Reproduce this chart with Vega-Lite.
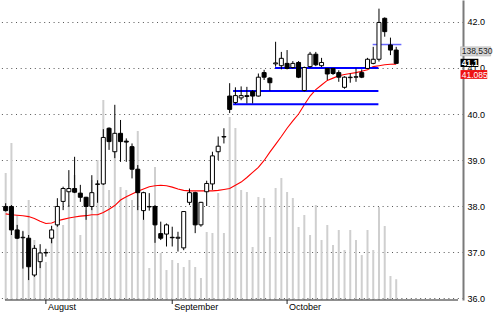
{
"$schema": "https://vega.github.io/schema/vega-lite/v6.json",
"width": 463, "height": 300,
"autosize": {"type": "pad"},
"padding": 0,
"background": "white",
"config": {"view": {"stroke": null}, "font": "Liberation Sans", "axis": {"labelFont": "Liberation Sans", "labelFontSize": 9, "labelColor": "#000"}},
"datasets": {
"bars": [
{"i":0,"o":37.99,"h":38.06,"l":37.88,"c":37.90,"v":846700,"ma":37.83},
{"i":1,"o":37.99,"h":38.02,"l":37.37,"c":37.48,"v":1046700,"ma":37.81},
{"i":2,"o":37.48,"h":37.59,"l":37.28,"c":37.30,"v":566700,"ma":37.80},
{"i":3,"o":37.31,"h":37.46,"l":36.64,"c":37.32,"v":453400,"ma":37.79},
{"i":4,"o":37.30,"h":37.37,"l":36.39,"c":36.68,"v":666700,"ma":37.77},
{"i":5,"o":36.50,"h":37.15,"l":36.46,"c":37.08,"v":400000,"ma":37.73},
{"i":6,"o":36.79,"h":37.17,"l":36.65,"c":36.98,"v":300000,"ma":37.67},
{"i":7,"o":36.98,"h":37.07,"l":36.90,"c":36.99,"v":253300,"ma":37.62},
{"i":8,"o":37.30,"h":37.57,"l":37.19,"c":37.48,"v":466700,"ma":37.63},
{"i":9,"o":37.59,"h":38.17,"l":37.55,"c":37.99,"v":600000,"ma":37.68},
{"i":10,"o":38.10,"h":38.42,"l":37.91,"c":38.38,"v":500000,"ma":37.71},
{"i":11,"o":38.31,"h":38.78,"l":37.98,"c":38.38,"v":633400,"ma":37.74},
{"i":12,"o":38.38,"h":39.07,"l":38.28,"c":38.30,"v":833400,"ma":37.76},
{"i":13,"o":38.28,"h":38.46,"l":38.09,"c":38.19,"v":433400,"ma":37.78},
{"i":14,"o":38.19,"h":38.20,"l":37.70,"c":37.99,"v":600000,"ma":37.79},
{"i":15,"o":37.99,"h":38.67,"l":37.91,"c":38.29,"v":800000,"ma":37.81},
{"i":16,"o":38.47,"h":38.56,"l":38.07,"c":38.48,"v":933400,"ma":37.81},
{"i":17,"o":38.48,"h":39.67,"l":38.46,"c":39.49,"v":1333400,"ma":37.86},
{"i":18,"o":39.69,"h":39.71,"l":39.22,"c":39.40,"v":733400,"ma":37.93},
{"i":19,"o":39.18,"h":40.20,"l":39.04,"c":39.58,"v":1066700,"ma":38.01},
{"i":20,"o":39.58,"h":39.87,"l":38.96,"c":39.40,"v":753400,"ma":38.13},
{"i":21,"o":39.41,"h":39.47,"l":38.96,"c":39.39,"v":733400,"ma":38.20},
{"i":22,"o":39.29,"h":39.36,"l":38.60,"c":38.80,"v":666700,"ma":38.26},
{"i":23,"o":38.80,"h":38.89,"l":37.91,"c":38.29,"v":1126700,"ma":38.32},
{"i":24,"o":37.90,"h":38.31,"l":37.70,"c":38.29,"v":613400,"ma":38.37},
{"i":25,"o":37.99,"h":38.28,"l":37.90,"c":37.98,"v":213300,"ma":38.42},
{"i":26,"o":37.99,"h":38.02,"l":37.20,"c":37.59,"v":886700,"ma":38.44},
{"i":27,"o":37.40,"h":37.66,"l":37.26,"c":37.30,"v":313300,"ma":38.45},
{"i":28,"o":37.39,"h":37.62,"l":37.12,"c":37.59,"v":200000,"ma":38.44},
{"i":29,"o":37.32,"h":37.55,"l":37.12,"c":37.31,"v":266700,"ma":38.41},
{"i":30,"o":37.30,"h":37.44,"l":37.01,"c":37.32,"v":246700,"ma":38.37},
{"i":31,"o":37.09,"h":37.89,"l":37.04,"c":37.88,"v":220000,"ma":38.34},
{"i":32,"o":38.08,"h":38.38,"l":38.02,"c":38.29,"v":266700,"ma":38.33},
{"i":33,"o":38.29,"h":38.31,"l":37.41,"c":37.59,"v":220000,"ma":38.33},
{"i":34,"o":37.59,"h":38.09,"l":37.55,"c":38.08,"v":146700,"ma":38.33},
{"i":35,"o":38.31,"h":38.55,"l":38.00,"c":38.49,"v":453400,"ma":38.33},
{"i":36,"o":38.48,"h":39.18,"l":38.35,"c":39.09,"v":446700,"ma":38.33},
{"i":37,"o":39.18,"h":39.51,"l":39.00,"c":39.30,"v":713400,"ma":38.34},
{"i":38,"o":39.50,"h":39.69,"l":39.36,"c":39.51,"v":446700,"ma":38.36},
{"i":39,"o":40.39,"h":40.67,"l":40.02,"c":40.10,"v":1220000,"ma":38.38},
{"i":40,"o":40.25,"h":40.58,"l":40.22,"c":40.40,"v":1146700,"ma":38.45},
{"i":41,"o":40.35,"h":40.60,"l":40.30,"c":40.40,"v":733400,"ma":38.52},
{"i":42,"o":40.38,"h":40.59,"l":40.23,"c":40.40,"v":720000,"ma":38.62},
{"i":43,"o":40.49,"h":40.52,"l":40.23,"c":40.39,"v":353400,"ma":38.73},
{"i":44,"o":40.39,"h":40.88,"l":40.38,"c":40.80,"v":686700,"ma":38.84},
{"i":45,"o":40.90,"h":40.96,"l":40.74,"c":40.80,"v":680000,"ma":38.99},
{"i":46,"o":40.78,"h":40.80,"l":40.51,"c":40.68,"v":420000,"ma":39.17},
{"i":47,"o":41.09,"h":41.57,"l":41.03,"c":41.11,"v":746700,"ma":39.34},
{"i":48,"o":41.05,"h":41.35,"l":40.97,"c":41.21,"v":813400,"ma":39.51},
{"i":49,"o":41.10,"h":41.39,"l":40.97,"c":40.99,"v":720000,"ma":39.69},
{"i":50,"o":41.01,"h":41.15,"l":40.99,"c":41.10,"v":680000,"ma":39.85},
{"i":51,"o":41.12,"h":41.15,"l":40.78,"c":40.80,"v":486700,"ma":40.00},
{"i":52,"o":40.51,"h":41.03,"l":40.49,"c":41.01,"v":566700,"ma":40.20},
{"i":53,"o":41.03,"h":41.35,"l":41.00,"c":41.30,"v":433400,"ma":40.39},
{"i":54,"o":41.30,"h":41.35,"l":41.04,"c":41.07,"v":633400,"ma":40.53},
{"i":55,"o":41.05,"h":41.22,"l":41.02,"c":41.12,"v":400000,"ma":40.63},
{"i":56,"o":40.99,"h":41.00,"l":40.74,"c":40.87,"v":500000,"ma":40.73},
{"i":57,"o":40.99,"h":41.00,"l":40.85,"c":40.88,"v":366700,"ma":40.78},
{"i":58,"o":40.90,"h":40.95,"l":40.70,"c":40.80,"v":466700,"ma":40.83},
{"i":59,"o":40.58,"h":40.82,"l":40.55,"c":40.80,"v":333400,"ma":40.86},
{"i":60,"o":40.79,"h":40.88,"l":40.68,"c":40.80,"v":466700,"ma":40.88},
{"i":61,"o":40.80,"h":40.99,"l":40.70,"c":40.81,"v":400000,"ma":40.90},
{"i":62,"o":40.90,"h":40.97,"l":40.78,"c":40.80,"v":300000,"ma":40.93},
{"i":63,"o":40.99,"h":41.22,"l":40.98,"c":41.19,"v":466700,"ma":40.96},
{"i":64,"o":41.10,"h":41.46,"l":41.08,"c":41.19,"v":333400,"ma":41.03},
{"i":65,"o":41.19,"h":42.29,"l":41.14,"c":41.99,"v":620000,"ma":41.05},
{"i":66,"o":42.08,"h":42.10,"l":41.68,"c":41.79,"v":493400,"ma":41.07},
{"i":67,"o":41.50,"h":41.66,"l":41.28,"c":41.39,"v":160000,"ma":41.08},
{"i":68,"o":41.39,"h":41.46,"l":41.10,"c":41.10,"v":138530,"ma":41.085}
],
"levels": [
{"from":39.6,"to":64.9,"p":40.5},
{"from":39.6,"to":64.9,"p":40.21},
{"from":46.9,"to":64.9,"p":41.0},
{"from":63.9,"to":68.9,"p":41.51}
],
"months": [
{"i":7,"month":"August"},
{"i":29,"month":"September"},
{"i":49,"month":"October"}
]
},
"resolve": {"scale": {"y": "independent"}, "axis": {"y": "independent"}},
"layer": [
{
"data": {"name": "bars"},
"mark": {"type": "rule", "color": "#cfcfcf", "strokeWidth": 2, "clip": true},
"encoding": {
"x": {"field": "i", "type": "quantitative", "scale": {"domain": [-0.119, 78.76], "nice": false, "zero": false}, "axis": null},
"y": {"field": "v", "type": "quantitative", "scale": {"domain": [0, 2000000], "nice": false, "zero": true}, "axis": null},
"y2": {"datum": 0}
}
},
{
"data": {"name": "bars"},
"mark": {"type": "line", "color": "#ff0000", "strokeWidth": 1.1, "clip": true},
"encoding": {
"x": {"field": "i", "type": "quantitative", "axis": null},
"y": {"field": "ma", "type": "quantitative", "scale": {"domain": [35.957, 42.478], "nice": false, "zero": false},
"axis": {"orient": "right", "title": null, "values": [36, 37, 38, 39, 40, 41, 42], "format": ".1f", "grid": true, "gridDash": [1, 3.7], "gridColor": "#555", "gridWidth": 1, "ticks": false, "labelPadding": 4, "domainColor": "#7a7a7a", "domainWidth": 2, "labelFontSize": 9}}
}
},
{
"data": {"name": "levels"},
"transform": [{"filter": "datum.p < 41.4"}],
"mark": {"type": "rule", "color": "#0000ff", "strokeWidth": 2},
"encoding": {
"x": {"field": "from", "type": "quantitative", "axis": null},
"x2": {"field": "to"},
"y": {"field": "p", "type": "quantitative", "scale": {"domain": [35.957, 42.478], "nice": false, "zero": false}, "axis": null}
}
},
{
"data": {"name": "levels"},
"transform": [{"filter": "datum.p > 41.4"}],
"mark": {"type": "rule", "color": "#6a6aff", "strokeWidth": 1.5},
"encoding": {
"x": {"field": "from", "type": "quantitative", "axis": null},
"x2": {"field": "to"},
"y": {"field": "p", "type": "quantitative", "scale": {"domain": [35.957, 42.478], "nice": false, "zero": false}, "axis": null}
}
},
{
"data": {"name": "bars"},
"mark": {"type": "rule", "color": "#000", "strokeWidth": 1, "clip": true},
"encoding": {
"x": {"field": "i", "type": "quantitative", "axis": null},
"y": {"field": "l", "type": "quantitative", "scale": {"domain": [35.957, 42.478], "nice": false, "zero": false}, "axis": null},
"y2": {"field": "h"}
}
},
{
"data": {"name": "bars"},
"mark": {"type": "bar", "width": 4, "stroke": "#000", "strokeWidth": 1, "clip": true},
"encoding": {
"x": {"field": "i", "type": "quantitative", "axis": null},
"y": {"field": "o", "type": "quantitative", "scale": {"domain": [35.957, 42.478], "nice": false, "zero": false}, "axis": null},
"y2": {"field": "c"},
"fill": {"condition": {"test": "datum.c < datum.o", "value": "#000"}, "value": "#fff"}
}
},
{
"data": {"values": [{}]},
"mark": {"type": "rule", "color": "#222", "strokeWidth": 1.2},
"encoding": {
"x": {"datum": -0.119, "type": "quantitative", "axis": null},
"x2": {"datum": 78.76},
"y": {"datum": 35.957, "type": "quantitative", "scale": {"domain": [35.957, 42.478], "nice": false, "zero": false}, "axis": null}
}
},
{
"data": {"name": "months"},
"mark": {"type": "rule", "color": "#222", "strokeWidth": 1, "y2Offset": 4},
"encoding": {
"x": {"field": "i", "type": "quantitative", "axis": null},
"y": {"datum": 35.957, "type": "quantitative", "scale": {"domain": [35.957, 42.478], "nice": false, "zero": false}, "axis": null},
"y2": {"datum": 35.957}
}
},
{
"data": {"name": "months"},
"mark": {"type": "text", "align": "left", "baseline": "top", "dx": 2, "dy": 2.5, "fontSize": 9, "color": "#000"},
"encoding": {
"x": {"field": "i", "type": "quantitative", "axis": null},
"y": {"datum": 35.957, "type": "quantitative", "scale": {"domain": [35.957, 42.478], "nice": false, "zero": false}, "axis": null},
"text": {"field": "month", "type": "nominal"}
}
},
{
"data": {"name": "bars"},
"transform": [{"filter": "datum.i == 68"}],
"mark": {"type": "rect", "fill": "#d6d6d6", "stroke": "#aaa", "strokeWidth": 0.5, "yOffset": -16.6, "y2Offset": -7.4},
"encoding": {
"x": {"datum": 79.2, "type": "quantitative", "axis": null}, "x2": {"datum": 84.45},
"y": {"field": "c", "type": "quantitative", "scale": {"domain": [35.957, 42.478], "nice": false, "zero": false}, "axis": null}, "y2": {"field": "c"}
}
},
{
"data": {"name": "bars"},
"transform": [{"filter": "datum.i == 68"}],
"mark": {"type": "text", "align": "left", "baseline": "middle", "dy": -12, "fontSize": 8.5, "color": "#222"},
"encoding": {
"x": {"datum": 79.4, "type": "quantitative", "axis": null},
"y": {"field": "c", "type": "quantitative", "scale": {"domain": [35.957, 42.478], "nice": false, "zero": false}, "axis": null},
"text": {"field": "v", "type": "quantitative", "format": ",d"}
}
},
{
"data": {"name": "bars"},
"transform": [{"filter": "datum.i == 68"}],
"mark": {"type": "rect", "fill": "#000", "yOffset": -4.6, "y2Offset": 3.6},
"encoding": {
"x": {"datum": 79.2, "type": "quantitative", "axis": null}, "x2": {"datum": 82.3},
"y": {"field": "c", "type": "quantitative", "scale": {"domain": [35.957, 42.478], "nice": false, "zero": false}, "axis": null}, "y2": {"field": "c"}
}
},
{
"data": {"name": "bars"},
"transform": [{"filter": "datum.i == 68"}],
"mark": {"type": "text", "align": "left", "baseline": "middle", "dy": -0.5, "fontSize": 8.5, "fontWeight": "bold", "color": "#fff"},
"encoding": {
"x": {"datum": 79.4, "type": "quantitative", "axis": null},
"y": {"field": "c", "type": "quantitative", "scale": {"domain": [35.957, 42.478], "nice": false, "zero": false}, "axis": null},
"text": {"field": "c", "type": "quantitative", "format": ".1f"}
}
},
{
"data": {"name": "bars"},
"transform": [{"filter": "datum.i == 68"}],
"mark": {"type": "rect", "fill": "#ee1111", "yOffset": 6, "y2Offset": 14.8},
"encoding": {
"x": {"datum": 79.2, "type": "quantitative", "axis": null}, "x2": {"datum": 83.85},
"y": {"field": "ma", "type": "quantitative", "scale": {"domain": [35.957, 42.478], "nice": false, "zero": false}, "axis": null}, "y2": {"field": "ma"}
}
},
{
"data": {"name": "bars"},
"transform": [{"filter": "datum.i == 68"}],
"mark": {"type": "text", "align": "left", "baseline": "middle", "dy": 10.6, "fontSize": 8.5, "color": "#fff"},
"encoding": {
"x": {"datum": 79.4, "type": "quantitative", "axis": null},
"y": {"field": "ma", "type": "quantitative", "scale": {"domain": [35.957, 42.478], "nice": false, "zero": false}, "axis": null},
"text": {"field": "ma", "type": "quantitative", "format": ".3f"}
}
}
]
}
